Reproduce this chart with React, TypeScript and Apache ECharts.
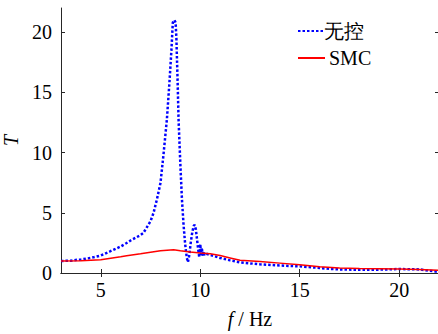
import React, { useEffect, useRef } from "react";
import * as echarts from "echarts";

const freqNoCtrl = [3, 3.5, 3.8, 4, 4.3, 4.62, 5, 5.46, 6, 6.3, 6.5, 7, 7.14, 7.5, 7.65, 7.82, 8, 8.15, 8.32, 8.45, 8.55, 8.62, 8.7, 8.76, 8.8, 8.86, 8.91, 9.0, 9.08, 9.16, 9.24, 9.32, 9.38, 9.45, 9.52, 9.6, 9.67, 9.72, 9.78, 9.85, 9.9, 9.95, 10.0, 10.04, 10.08, 10.12, 10.16, 10.22, 10.3, 10.5, 11, 11.5, 12, 13, 14, 15, 16, 16.6, 17, 18, 19, 20, 21, 21.5, 22];
const valNoCtrl = [1.0, 1.02, 1.1, 1.12, 1.2, 1.3, 1.45, 1.79, 2.2, 2.49, 2.7, 3.15, 3.32, 4.3, 4.98, 6.1, 7.47, 9.8, 12.7, 15.8, 18.5, 20.8, 21.0, 20.8, 19.5, 16.0, 12.7, 9.0, 6.1, 4.0, 2.4, 1.3, 0.9, 1.5, 2.5, 3.4, 3.9, 4.0, 3.6, 2.6, 1.9, 1.3, 2.4, 1.5, 2.1, 1.4, 1.8, 1.5, 1.6, 1.5, 1.25, 1.05, 0.88, 0.72, 0.62, 0.55, 0.42, 0.33, 0.3, 0.26, 0.28, 0.33, 0.3, 0.2, 0.08];

const freqSMC = [3, 4, 5, 6, 6.3, 7, 8, 8.66, 9, 9.5, 10, 10.5, 11, 11.5, 12, 13, 14, 15, 16, 17, 18, 19, 20, 21, 22];
const valSMC = [1.0, 1.02, 1.1, 1.35, 1.43, 1.6, 1.85, 1.93, 1.85, 1.75, 1.66, 1.6, 1.45, 1.25, 1.05, 0.95, 0.82, 0.68, 0.52, 0.42, 0.37, 0.35, 0.33, 0.3, 0.22];

const xTicks = [5, 10, 15, 20];
const yTicks = [0, 5, 10, 15, 20];
const seriesNames = ["无控", "SMC"];

const FONT = "Times New Roman";

export default function App() {
  const ref = useRef<HTMLDivElement>(null);
  useEffect(() => {
    if (!ref.current) return;
    const chart = echarts.init(ref.current, null, { renderer: "svg" });
    const axisLine = { show: true, lineStyle: { color: "#262626", width: 1 } };
    chart.setOption({
      animation: false,
      backgroundColor: "#ffffff",
      textStyle: { fontFamily: FONT },
      grid: { left: 61, right: -1, top: 8, bottom: 61, containLabel: false, outerBoundsMode: "none" },
      legend: {
        orient: "vertical",
        left: 292,
        top: 16,
        itemWidth: 27,
        itemHeight: 10,
        itemGap: 7,
        data: seriesNames,
        itemStyle: { opacity: 0 },
        formatter: (n: string) => (n === "SMC" ? " SMC" : n),
        textStyle: { fontFamily: FONT, fontSize: 20, color: "#000", padding: [0, 0, 0, -6] },
      },
      xAxis: [
        {
          type: "value",
          min: 3,
          max: 22,
          position: "bottom",
          axisLine,
          splitLine: { show: false },
          axisTick: { show: true, inside: true, length: 4, customValues: xTicks, lineStyle: { color: "#262626" } },
          axisLabel: { customValues: xTicks, fontSize: 20, color: "#000", margin: 7, fontFamily: FONT },
          name: "{i|f} / Hz",
          nameLocation: "middle",
          nameGap: 36,
          nameTextStyle: {
            fontSize: 20,
            color: "#000",
            fontFamily: FONT,
            rich: { i: { fontStyle: "italic", fontSize: 20, fontFamily: FONT, color: "#000" } },
          },
        },
        {
          type: "value",
          min: 3,
          max: 22,
          position: "top",
          axisLine,
          splitLine: { show: false },
          axisTick: { show: true, inside: true, length: 4, customValues: xTicks, lineStyle: { color: "#262626" } },
          axisLabel: { show: false },
        },
      ],
      yAxis: [
        {
          type: "value",
          min: 0,
          max: 22,
          position: "left",
          axisLine,
          splitLine: { show: false },
          axisTick: { show: true, inside: true, length: 4, customValues: yTicks, lineStyle: { color: "#262626" } },
          axisLabel: { customValues: yTicks, fontSize: 20, color: "#000", margin: 9, fontFamily: FONT },
          name: "T",
          nameLocation: "middle",
          nameGap: 40,
          nameRotate: 90,
          nameTextStyle: { fontSize: 20, fontStyle: "italic", color: "#000", fontFamily: FONT },
        },
        {
          type: "value",
          min: 0,
          max: 22,
          position: "right",
          axisLine,
          splitLine: { show: false },
          axisTick: { show: true, inside: true, length: 4, customValues: yTicks, lineStyle: { color: "#262626" } },
          axisLabel: { show: false },
        },
      ],
      series: [
        {
          name: seriesNames[0],
          type: "line",
          symbol: "none",
          data: freqNoCtrl.map((f, i) => [f, valNoCtrl[i]]),
          lineStyle: { color: "#0000ff", width: 2.5, type: [2.5, 2] },
          itemStyle: { color: "#0000ff" },
          z: 3,
        },
        {
          name: seriesNames[1],
          type: "line",
          symbol: "none",
          data: freqSMC.map((f, i) => [f, valSMC[i]]),
          lineStyle: { color: "#ff0000", width: 1.5 },
          itemStyle: { color: "#ff0000" },
          z: 4,
        },
      ],
    });
    return () => chart.dispose();
  }, []);
  return <div ref={ref} style={{ width: 438, height: 334, position: "absolute", left: 0, top: 0 }} />;
}
